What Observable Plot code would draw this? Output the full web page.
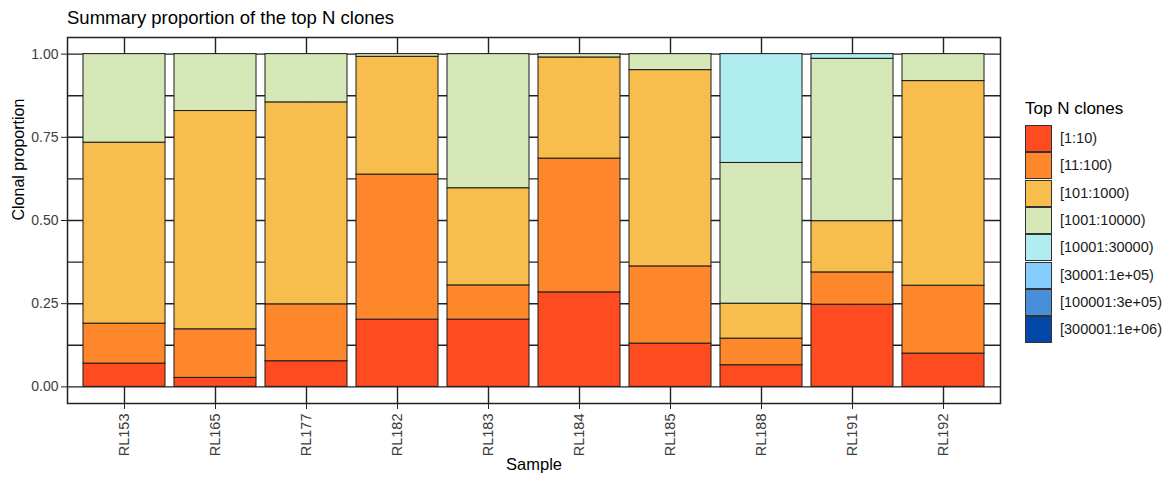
<!DOCTYPE html>
<html>
<head>
<meta charset="utf-8">
<script src="https://cdn.jsdelivr.net/npm/d3@7"></script>
<script src="https://cdn.jsdelivr.net/npm/@observablehq/plot@0.6"></script>
<style>
  body { margin: 0; background: #fff; font-family: "Liberation Sans", Arial, sans-serif; }
  #wrap { position: relative; width: 1172px; height: 482px; overflow: hidden; }
  #title { position: absolute; left: 67px; top: 9px; font-size: 18.5px; line-height: 1; color: #000; white-space: nowrap; }
  #chart { position: absolute; left: 0; top: 30px; }
  #legend { position: absolute; left: 1025px; top: 0; }
  .ltitle { position: absolute; left: 0; top: 100px; font-size: 17px; line-height: 1; color: #000; white-space: nowrap; }
  .lkey { position: absolute; left: 0; width: 25px; height: 25px; border: 1px solid #333; }
  .llab { position: absolute; left: 35px; font-size: 14.5px; line-height: 1; color: #1a1a1a; white-space: nowrap; }
</style>
</head>
<body>
<div id="wrap">
  <div id="chart"></div>
  <div id="title">Summary proportion of the top N clones</div>
  <div id="legend"></div>
</div>
<script>
const samples = ["RL153", "RL165", "RL177", "RL182", "RL183", "RL184", "RL185", "RL188", "RL191", "RL192"];
const groups = ["[1:10)", "[11:100)", "[101:1000)", "[1001:10000)", "[10001:30000)", "[30001:1e+05)", "[100001:3e+05)", "[300001:1e+06)"];
const groupColors = ["#FF4B20", "#FF872B", "#F7BE4D", "#D6E8B7", "#B0EDF1", "#85CDFC", "#478FD9", "#0348A6"];

const top10      = [0.070, 0.027, 0.077, 0.202, 0.202, 0.284, 0.130, 0.065, 0.247, 0.100];
const top100     = [0.120, 0.146, 0.171, 0.436, 0.103, 0.402, 0.232, 0.080, 0.097, 0.204];
const top1000    = [0.544, 0.656, 0.607, 0.354, 0.292, 0.304, 0.590, 0.105, 0.154, 0.615];
const top10000   = [0.266, 0.171, 0.145, 0.008, 0.403, 0.010, 0.048, 0.423, 0.488, 0.081];
const top30000   = [0, 0, 0, 0, 0, 0, 0, 0.327, 0.014, 0];
const top1e5     = [0, 0, 0, 0, 0, 0, 0, 0, 0, 0];
const top3e5     = [0, 0, 0, 0, 0, 0, 0, 0, 0, 0];
const top1e6     = [0, 0, 0, 0, 0, 0, 0, 0, 0, 0];

const yTicks = [0, 0.25, 0.5, 0.75, 1];
const yGrid = [0, 0.125, 0.25, 0.375, 0.5, 0.625, 0.75, 0.875, 1];

const groupValues = [top10, top100, top1000, top10000, top30000, top1e5, top3e5, top1e6];
const data = groups.flatMap((g, i) => samples.map((s, j) => ({sample: s, group: g, value: groupValues[i][j]})))
  .filter(d => d.value > 0);

const chart = Plot.plot({
  width: 1010,
  height: 452,
  marginTop: 7,
  marginBottom: 79,
  marginLeft: 67,
  marginRight: 10,
  style: {fontFamily: "'Liberation Sans', Arial, sans-serif", background: "transparent", overflow: "visible"},
  x: {type: "band", domain: samples, paddingInner: 0.1, paddingOuter: 0.15, align: 0.5},
  y: {domain: [-0.05, 1.05]},
  color: {domain: groups, range: groupColors},
  marks: [
    Plot.gridY(yGrid, {stroke: "#222", strokeOpacity: 1, strokeWidth: 1.4}),
    Plot.gridX(samples, {stroke: "#222", strokeOpacity: 1, strokeWidth: 1.4}),
    Plot.barY(data, {x: "sample", y: "value", fill: "group", stroke: "#1a1a1a", strokeWidth: 1}),
    Plot.frame({stroke: "#222", strokeWidth: 1.5}),
    Plot.axisY(yTicks, {tickFormat: d3.format(".2f"), tickSize: 6, tickPadding: 3, fontSize: 14, color: "#222", fill: "#3d3d3d", label: null}),
    Plot.axisX(samples, {tickRotate: -90, tickSize: 6, tickPadding: 4, fontSize: 14.5, color: "#222", fill: "#3d3d3d", label: null}),
    Plot.text(["Clonal proportion"], {text: d => d, frameAnchor: "left", dx: -49, rotate: -90, fontSize: 16, fill: "#000"}),
    Plot.text(["Sample"], {text: d => d, frameAnchor: "bottom", dy: 66, fontSize: 16.5, fill: "#000"})
  ]
});
document.getElementById("chart").appendChild(chart);

const legend = d3.select("#legend");
legend.append("div").attr("class", "ltitle").text("Top N clones");
groups.forEach((g, i) => {
  const top = 125 + i * 27.3;
  legend.append("div").attr("class", "lkey").style("top", top + "px").style("background", groupColors[i]);
  legend.append("div").attr("class", "llab").style("top", (top + 6) + "px").text(g);
});
</script>
</body>
</html>
